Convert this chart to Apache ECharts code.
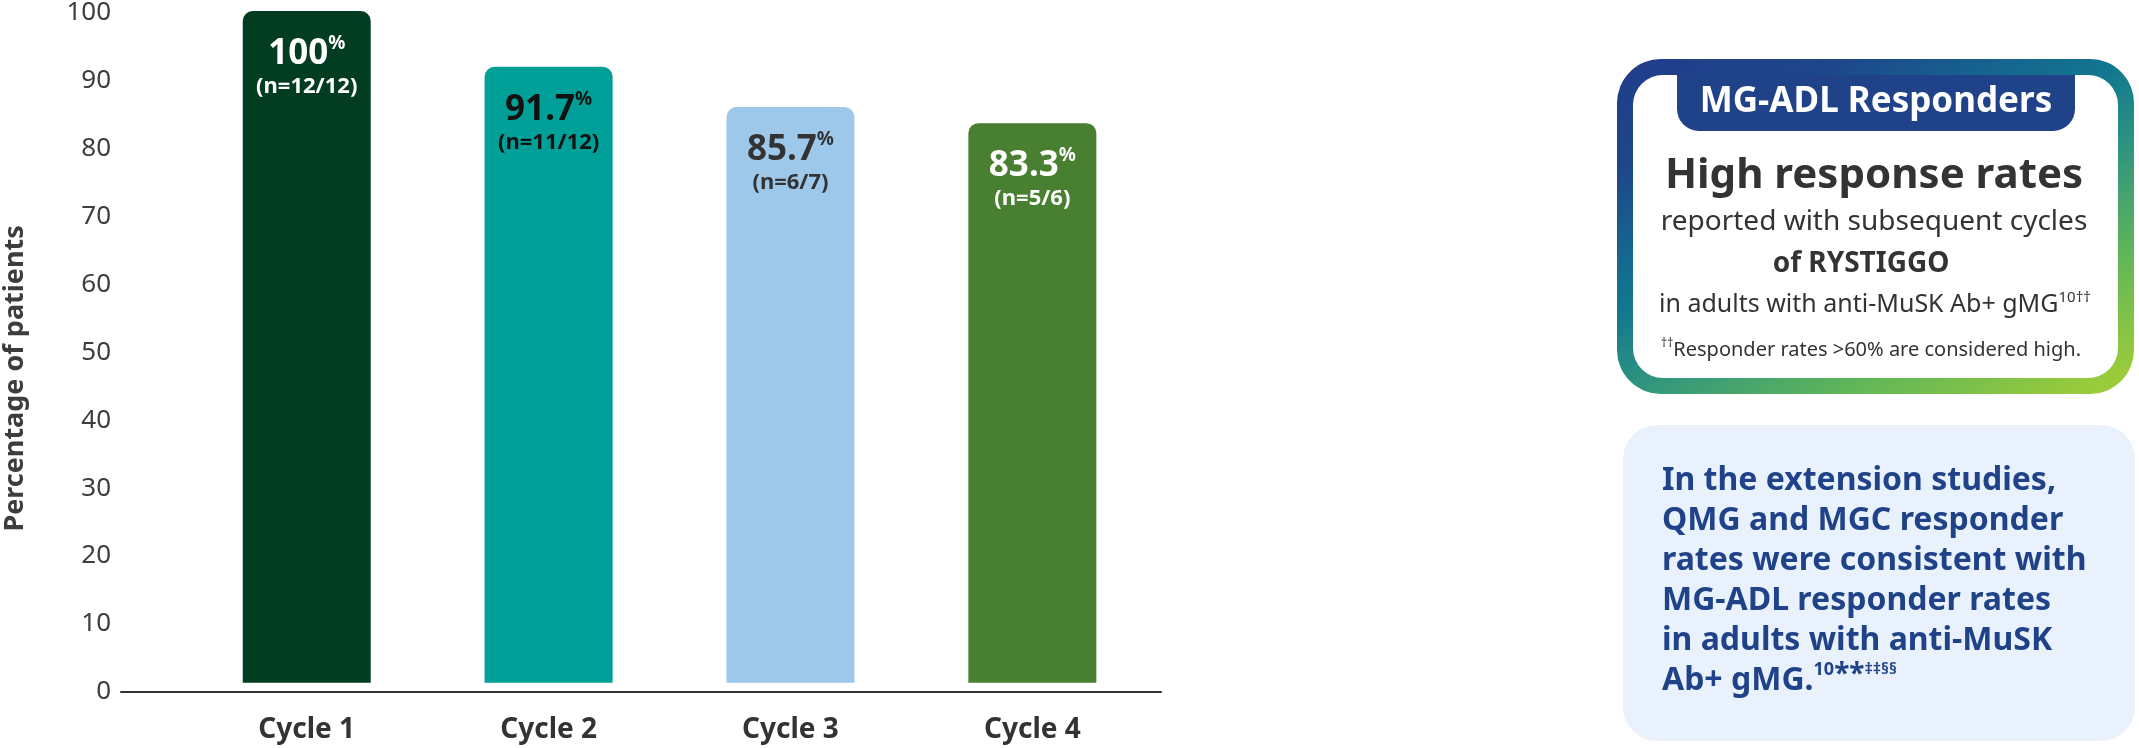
<!DOCTYPE html>
<html>
<head>
<meta charset="utf-8">
<script src="https://cdn.jsdelivr.net/npm/echarts@6/dist/echarts.min.js"></script>
<style>
html,body{margin:0;padding:0;background:#fff;}
#chart{width:2139px;height:748px;}
</style>
</head>
<body>
<div id="chart"></div>
<script>
const categories = ['Cycle 1', 'Cycle 2', 'Cycle 3', 'Cycle 4'];
const values = [100, 91.7, 85.7, 83.3];
const counts = ['n=12/12', 'n=11/12', 'n=6/7', 'n=5/6'];
const yTicks = [0, 10, 20, 30, 40, 50, 60, 70, 80, 90, 100];
const barColors = ['#023d22', '#009f98', '#9ec8ea', '#487f31'];
const labelColors = ['#ffffff', '#111111', '#333333', '#ffffff'];

const FONT = 'Noto Sans';

function richFor(color) {
  return {
    v: { fontFamily: FONT, fontSize: 35, fontWeight: 'bold', lineHeight: 40, color: color },
    p: { fontFamily: FONT, fontSize: 19, fontWeight: 'bold', lineHeight: 27, verticalAlign: 'top', color: color },
    n: { fontFamily: FONT, fontSize: 22, fontWeight: 'bold', lineHeight: 25, color: color }
  };
}

const barData = values.map((v, i) => ({
  value: v,
  itemStyle: { color: barColors[i] },
  label: { color: labelColors[i], rich: richFor(labelColors[i]) }
}));

const chart = echarts.init(document.getElementById('chart'), null, { renderer: 'canvas' });

const blue = '#1f4289';

const option = {
  animation: false,
  backgroundColor: '#ffffff',
  grid: [
    { left: 185.8, top: 11, width: 967.5, height: 671.7 },
    { left: 121, top: 11.9, width: 1040, height: 679.9 }
  ],
  xAxis: [
    {
      type: 'category', gridIndex: 0, data: categories,
      axisLine: { show: false }, axisTick: { show: false },
      axisLabel: { fontFamily: FONT, fontSize: 28, fontWeight: 'bold', color: '#333333', margin: 33 }
    },
    {
      type: 'value', gridIndex: 1, min: 0, max: 1,
      axisLine: { show: true, onZero: false, lineStyle: { color: '#333333', width: 2 } },
      axisTick: { show: false }, axisLabel: { show: false }, splitLine: { show: false }
    }
  ],
  yAxis: [
    { type: 'value', gridIndex: 0, min: 0, max: 100, show: false },
    {
      type: 'value', gridIndex: 1, min: yTicks[0], max: yTicks[yTicks.length - 1], interval: 10,
      axisLine: { show: false }, axisTick: { show: false }, splitLine: { show: false },
      axisLabel: { fontFamily: FONT, fontSize: 26, color: '#3d3d3d', margin: 10 },
      name: 'Percentage of patients', nameLocation: 'middle', nameRotate: 90, nameGap: 92,
      nameTextStyle: { fontFamily: FONT, fontSize: 27, fontWeight: 'bold', color: '#3d3d3d', padding: [0, 52, 0, 0] }
    }
  ],
  series: [
    {
      type: 'bar', xAxisIndex: 0, yAxisIndex: 0, data: barData, barWidth: 128,
      itemStyle: { borderRadius: [10, 10, 0, 0] },
      label: {
        show: true, position: 'insideTop', distance: 23,
        formatter: (p) => '{v|' + p.value + '}{p|%}\n{n|(' + counts[p.dataIndex] + ')}'
      }
    }
  ],
  graphic: [
    {
      type: 'rect', shape: { x: 1617, y: 59, width: 517, height: 335, r: 44 },
      style: {
        fill: {
          type: 'linear', global: true, x: 1617, y: 59, x2: 1837, y2: 511,
          colorStops: [
            { offset: 0, color: '#213c8b' },
            { offset: 0.2, color: '#1e468b' },
            { offset: 0.35, color: '#156690' },
            { offset: 0.45, color: '#11778f' },
            { offset: 0.6, color: '#2f9480' },
            { offset: 0.8, color: '#62b757' },
            { offset: 1, color: '#9acb3b' }
          ]
        }
      }
    },
    { type: 'rect', shape: { x: 1633, y: 75, width: 485, height: 303, r: 30 }, style: { fill: '#ffffff' } },
    { type: 'rect', shape: { x: 1677, y: 75, width: 398, height: 56, r: [0, 0, 22, 22] }, style: { fill: blue } },
    {
      type: 'text',
      style: { text: 'MG-ADL Responders', x: 1876, y: 102, align: 'center', verticalAlign: 'middle',
        fontFamily: FONT, fontSize: 35, fontWeight: 'bold', fill: '#ffffff' }
    },
    {
      type: 'text',
      style: { text: 'High response rates', x: 1874, y: 176, align: 'center', verticalAlign: 'middle',
        fontFamily: FONT, fontSize: 42, fontWeight: 'bold', fill: '#333333' }
    },
    {
      type: 'text',
      style: { text: 'reported with subsequent cycles', x: 1874, y: 222, align: 'center', verticalAlign: 'middle',
        fontFamily: FONT, fontSize: 28, fill: '#333333' }
    },
    {
      type: 'text',
      style: { text: 'of RYSTIGGO', x: 1861, y: 264, align: 'center', verticalAlign: 'middle',
        fontFamily: FONT, fontSize: 28, fontWeight: 'bold', fill: '#333333' }
    },
    {
      type: 'text',
      style: {
        text: '{a|in adults with anti-MuSK Ab+ gMG}{s|10††}', x: 1875, y: 305, align: 'center', verticalAlign: 'middle',
        rich: {
          a: { fontFamily: FONT, fontSize: 25, lineHeight: 30, fill: '#333333' },
          s: { fontFamily: FONT, fontSize: 15, lineHeight: 18, verticalAlign: 'top', fill: '#333333' }
        }
      }
    },
    {
      type: 'text',
      style: {
        text: '{s|††}{a|Responder rates >60% are considered high.}', x: 1871, y: 350, align: 'center', verticalAlign: 'middle',
        rich: {
          a: { fontFamily: FONT, fontSize: 20, lineHeight: 24, fill: '#333333' },
          s: { fontFamily: FONT, fontSize: 12, lineHeight: 16, verticalAlign: 'top', fill: '#333333' }
        }
      }
    },
    { type: 'rect', shape: { x: 1623, y: 425, width: 512, height: 316, r: 34 }, style: { fill: '#e9f2fc' } },
    {
      type: 'text',
      style: {
        text: '{b|In the extension studies,}\n{b|QMG and MGC responder}\n{b|rates were consistent with}\n{b|MG-ADL responder rates}\n{b|in adults with anti-MuSK}\n{b|Ab+ gMG.}{s|10}{t|**}{u|‡‡§§}',
        x: 1662, y: 461, align: 'left', verticalAlign: 'top',
        rich: {
          b: { fontFamily: FONT, fontSize: 32, fontWeight: 'bold', lineHeight: 40, fill: blue },
          s: { fontFamily: FONT, fontSize: 18, fontWeight: 'bold', lineHeight: 22, verticalAlign: 'top', fill: blue },
          t: { fontFamily: FONT, fontSize: 28, fontWeight: 'bold', lineHeight: 28, verticalAlign: 'top', fill: blue },
          u: { fontFamily: FONT, fontSize: 16, fontWeight: 'bold', lineHeight: 20, verticalAlign: 'top', fill: blue }
        }
      }
    }
  ]
};

chart.setOption(option);
</script>
</body>
</html>
